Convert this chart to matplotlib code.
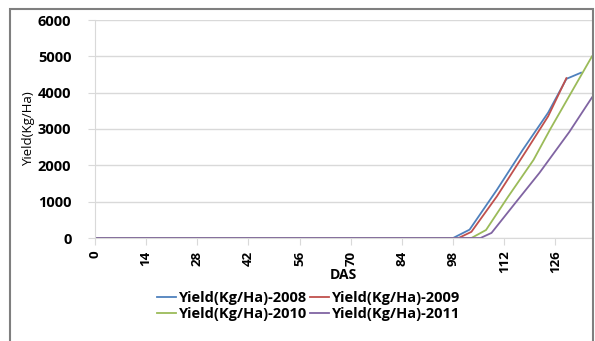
import matplotlib
matplotlib.use("Agg")
from matplotlib import pyplot as plt
from matplotlib.patches import Rectangle

# DAS values (sparse points) and yield in Kg/Ha
das_2008 = [0, 98, 102.5, 110, 117, 124, 129, 133]
yld_2008 = [0, 0, 230, 1330, 2420, 3450, 4380, 4550]

das_2009 = [0, 99.5, 103, 110, 118, 124, 129]
yld_2009 = [0, 0, 170, 1150, 2400, 3350, 4400]

das_2010 = [0, 103, 107, 113, 120, 124.6, 130.3, 136]
yld_2010 = [0, 0, 220, 1130, 2150, 3000, 4000, 5000]

das_2011 = [0, 105.5, 108.5, 115.3, 121.6, 129.8, 136]
yld_2011 = [0, 0, 140, 1000, 1790, 2920, 3870]

xticks = [0, 14, 28, 42, 56, 70, 84, 98, 112, 126]
yticks = [0, 1000, 2000, 3000, 4000, 5000, 6000]

plt.rcParams['font.family'] = ['Open Sans', 'DejaVu Sans']

fig = plt.figure(figsize=(5.95, 3.41), dpi=100)
ax = fig.add_axes([95 / 595, 1 - 238 / 341, 497 / 595, 218 / 341])

# chart area border (bottom edge is cut off in the original)
fig.patches.append(Rectangle((10 / 595, -0.05), 583 / 595, 1.05 - 9 / 341,
                             transform=fig.transFigure, fill=False,
                             edgecolor='#7f7f7f', lw=1.5))

lw = 1.3
l08, = ax.plot(das_2008, yld_2008, color='#4f81bd', lw=lw, label='Yield(Kg/Ha)-2008')
l09, = ax.plot(das_2009, yld_2009, color='#c0504d', lw=lw, label='Yield(Kg/Ha)-2009')
l10, = ax.plot(das_2010, yld_2010, color='#9bbb59', lw=lw, label='Yield(Kg/Ha)-2010')
l11, = ax.plot(das_2011, yld_2011, color='#8064a2', lw=lw, label='Yield(Kg/Ha)-2011')

ax.set_xlim(0, 136)
ax.set_ylim(0, 6000)
ax.set_xticks(xticks)
ax.set_xticklabels([str(t) for t in xticks], rotation=90, fontsize=9.5,
                   fontweight='bold')
ax.set_yticks(yticks)
ax.set_yticklabels([str(t) for t in yticks], fontsize=10.5, fontweight='bold')
ax.grid(axis='y', color='#d9d9d9', lw=1)
ax.set_axisbelow(True)
for s in ['top', 'right']:
    ax.spines[s].set_visible(False)
ax.spines['left'].set_color('#d9d9d9')
ax.spines['bottom'].set_color('#d9d9d9')
ax.tick_params(axis='both', color='#d9d9d9', length=5)
ax.tick_params(axis='y', pad=12)
ax.tick_params(axis='x', pad=4)

ax.set_xlabel('DAS', fontsize=10, fontweight='bold', labelpad=-4)
ax.set_ylabel('Yield(Kg/Ha)', fontsize=9.5, labelpad=2)

# row-wise legend order, like the original
handles = [l08, l10, l09, l11]
fig.legend(handles, [h.get_label() for h in handles],
           loc='upper left', bbox_to_anchor=(150 / 595, 1 - 284 / 341),
           ncol=2, frameon=False, prop={'weight': 'bold', 'size': 10.5},
           handlelength=1.3, handletextpad=0.2, columnspacing=0.2,
           labelspacing=0.15, borderpad=0)

plt.savefig('out.png', dpi=100)
